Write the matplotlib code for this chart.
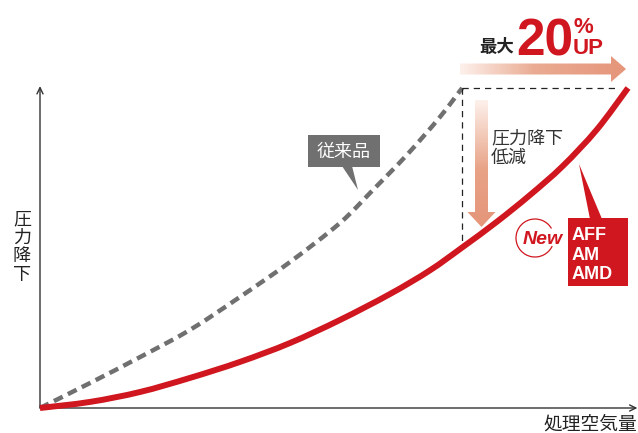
import numpy as np
import matplotlib
matplotlib.use("Agg")
import matplotlib.pyplot as plt
from matplotlib.colors import LinearSegmentedColormap
from matplotlib.patches import Polygon, Rectangle, Arc, PathPatch
from matplotlib.path import Path

plt.rcParams["font.family"] = ["Noto Sans CJK JP", "DejaVu Sans"]

# 処理空気量 (0-100) に対する圧力降下 (0-100)
flow_old = [0, 8.5, 17, 25.5, 34, 42.5, 51, 56.6, 62.4, 68, 71.8]
drop_old = [0, 7.8, 15.9, 24.4, 34.7, 45.6, 57.8, 68.1, 79.1, 90.9, 100]

flow_new = [0, 8.5, 17, 25.5, 34, 42.5, 51, 59.5, 66.3, 71.9, 77.7, 83.3, 88.9, 94.7, 100]
drop_new = [0, 1.9, 5.0, 9.4, 14.4, 20.3, 27.5, 35.6, 43.0, 50.3, 58.2, 66.5, 75.6, 87.0, 100]

label_old = "従来品"
label_new = ["AFF", "AM", "AMD"]
xlabel = "処理空気量"
ylabel = "圧力降下"

RED = "#d0161f"
GRAY = "#707070"

W, H = 638, 433
fig = plt.figure(figsize=(W / 100, H / 100), dpi=100)

# 装飾用 (ピクセル座標)
ov = fig.add_axes([0, 0, 1, 1])
ov.set_xlim(0, W)
ov.set_ylim(H, 0)
ov.axis("off")

# グラフ本体
ax = fig.add_axes([40 / W, 25 / H, 588 / W, 320 / H], zorder=2)
ax.patch.set_alpha(0)
ax.set_xlim(0, 100)
ax.set_ylim(0, 100)
ax.axis("off")


def smooth_path(xs, ys):
    """Catmull-Rom 風のベジェで点列を滑らかにつなぐ."""
    p = np.column_stack([xs, ys]).astype(float)
    ext = np.vstack([p[0], p, p[-1]])
    verts = [p[0]]
    codes = [Path.MOVETO]
    for i in range(1, len(ext) - 2):
        p0, p1, p2, p3 = ext[i - 1], ext[i], ext[i + 1], ext[i + 2]
        verts += [p1 + (p2 - p0) / 6, p2 - (p3 - p1) / 6, p2]
        codes += [Path.CURVE4] * 3
    return Path(verts, codes)


# 軸 (矢印)
arrow_kw = dict(arrowstyle="->,head_length=0.45,head_width=0.22", color="#333333",
                lw=1.0, shrinkA=0, shrinkB=0)
ax.annotate("", xy=(101.6, 0), xytext=(0, 0), arrowprops=arrow_kw, annotation_clip=False)
ax.annotate("", xy=(0, 100.6), xytext=(0, 0), arrowprops=arrow_kw, annotation_clip=False)

# 従来品 / 新製品
ax.add_patch(PathPatch(smooth_path(flow_old, drop_old), fill=False, edgecolor=GRAY,
                       lw=3.2, ls=(0, (2.2, 1.3)), capstyle="butt", clip_on=False))
ax.add_patch(PathPatch(smooth_path(flow_new, drop_new), fill=False, edgecolor=RED,
                       lw=4.3, capstyle="butt", joinstyle="round", clip_on=False,
                       zorder=3))

# 最大値位置の点線枠
x_peak = flow_old[-1]
y_at_peak = np.interp(x_peak, flow_new, drop_new)
ax.plot([x_peak, 98], [100, 100], color="#222222", lw=0.9, ls=(0, (5, 4)), clip_on=False)
ax.plot([x_peak, x_peak], [100, y_at_peak], color="#222222", lw=0.9, ls=(0, (5, 4)),
        clip_on=False)


def gradient_arrow(pts, extent, horizontal, stops):
    cmap = LinearSegmentedColormap.from_list("g", stops)
    grad = np.linspace(0, 1, 256)
    img = grad[None, :] if horizontal else grad[:, None]
    im = ov.imshow(img, cmap=cmap, extent=extent, aspect="auto", zorder=1,
                   interpolation="bilinear")
    poly = Polygon(pts, closed=True, facecolor="none", edgecolor="none")
    ov.add_patch(poly)
    im.set_clip_path(poly)


# 上の矢印 (最大20%UP)
gradient_arrow([(460, 63.5), (611, 63.5), (611, 56), (626, 69), (611, 82), (611, 74.5),
                (460, 74.5)], [460, 626, 82, 56], True,
               [(0, "#fdf1ec"), (0.45, "#eaab92"), (1, "#e5957a")])
# 下向き矢印 (圧力降下低減)
gradient_arrow([(475, 100), (488, 100), (488, 212), (495.5, 212), (481.5, 227),
                (467.5, 212), (475, 212)], [467, 496, 227, 100], False,
               [(0, "#fdf1ec"), (0.55, "#e8a286"), (1, "#e5957a")])

ov.text(479, 47, "最大", fontsize=12.5, fontweight="bold", color="#222222",
        ha="left", va="center")
ov.text(516, 55, "20", fontsize=37, fontweight="bold", color=RED, ha="left",
        va="baseline", family="Liberation Sans")
ov.text(574, 33, "%", fontsize=16, fontweight="bold", color=RED, ha="left",
        va="baseline", family="Liberation Sans")
ov.text(573, 54, "UP", fontsize=16, fontweight="bold", color=RED, ha="left",
        va="baseline", family="Liberation Sans")

ov.text(491, 148, "圧力降下\n低減", fontsize=13, color="#333333", ha="left",
        va="center", linespacing=1.1)

# 従来品の吹き出し
ov.add_patch(Rectangle((308, 135), 72, 32, facecolor=GRAY, edgecolor="none"))
ov.add_patch(Polygon([(342, 166), (352, 166), (358, 190)], closed=True,
                     facecolor=GRAY, edgecolor="none"))
ov.text(344, 151.5, label_old, fontsize=13, color="white", ha="center", va="center")

# 新製品ラベル
ov.add_patch(Polygon([(590, 219), (602, 219), (579, 164)], closed=True,
                     facecolor=RED, edgecolor="none", zorder=4))
ov.add_patch(Rectangle((568, 218), 60, 68, facecolor=RED, edgecolor="none", zorder=4))
for i, name in enumerate(label_new):
    ov.text(572, 240 + i * 19.5, name, fontsize=13, fontweight="bold", color="white",
            ha="left", va="baseline", family="Liberation Sans", zorder=5)

ov.add_patch(Arc((535, 238), 38, 38, theta1=25, theta2=330, color=RED, lw=0.9))
ov.text(543, 239, "New", fontsize=14, fontweight="bold", style="italic", color=RED,
        ha="center", va="center", family="Liberation Sans")

# 軸ラベル
ov.text(22, 247, "\n".join(ylabel), fontsize=13, color="#222222", ha="center",
        va="center", linespacing=1.05)
ov.text(637, 424, xlabel, fontsize=13.5, color="#222222", ha="right", va="center")

fig.savefig("out.png", dpi=100)
